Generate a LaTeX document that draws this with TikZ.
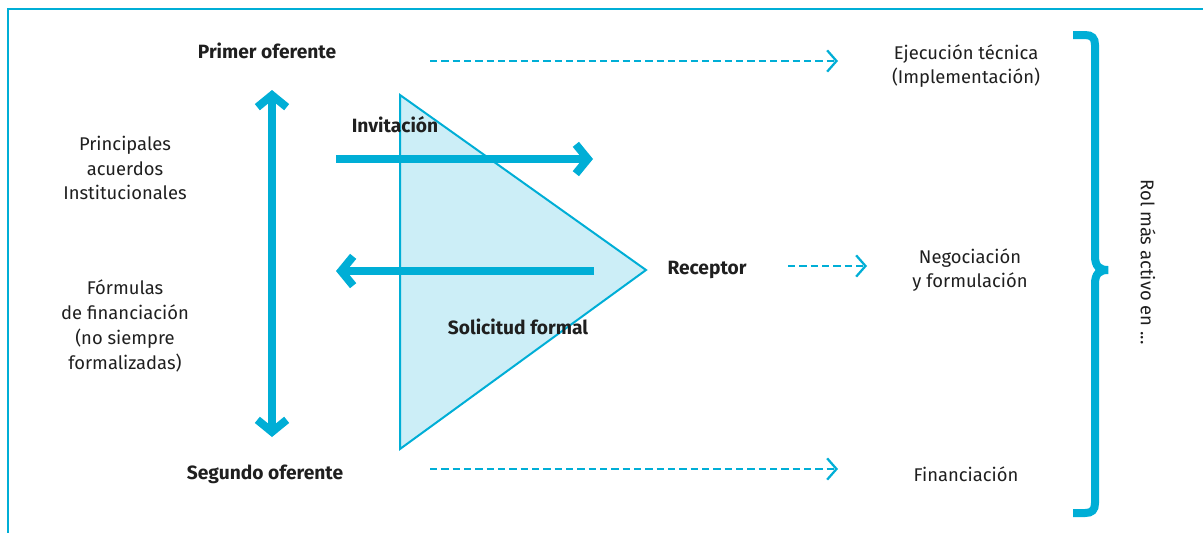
\documentclass[tikz,border=0pt]{standalone}
\usepackage{fontspec}
\setmainfont{Fira Sans}
\usepackage{tikz}
\usetikzlibrary{arrows.meta}

\definecolor{cianoc}{HTML}{00AED6}
\definecolor{cianoclaro}{HTML}{CCEEF7}

\begin{document}
\begin{tikzpicture}[x=0.75pt,y=-0.75pt,
    line join=miter,
    txt/.style={align=center,font=\fontsize{13.8}{18.6}\selectfont,text=black!88},
    bold/.style={txt,font=\fontsize{14.4}{18.6}\selectfont\bfseries},
    gruesa/.style={draw=cianoc,line width=6pt,
      arrows={-Straight Barb[length=9pt,width=22pt]}},
    punteada/.style={draw=cianoc,line width=1.7pt,dash pattern=on 5.5pt off 3pt,
      arrows={-Straight Barb[length=7pt,width=16pt]}}]
    \useasboundingbox (0,0) rectangle (1203,533);

    % Frame lines on top and left.
    \draw[cianoc,line width=2pt] (1203,9) -- (8,9) -- (8,533);

    % The receiving triangle.
    \draw[cianoc,fill=cianoclaro,line width=1.5pt]
      (400,95) -- (400,449) -- (646,270) -- cycle;

    % Actors and labels.
    \node[bold] (primer) at (267,51) {Primer oferente};
    \node[bold] (segundo) at (265,474) {Segundo oferente};
    \node[bold] (invit) at (395,125) {Invitación};
    \node[bold] (solic) at (518,327) {Solicitud formal};
    \node[bold] (receptor) at (707,270) {Receptor};

    \node[txt] (acuerdos) at (125,168) {Principales\\acuerdos\\Institucionales};
    \node[txt] (formulas) at (125,326)
      {Fórmulas\\de financiación\\(no siempre\\formalizadas)};

    \node[txt] (ejec) at (966,66) {Ejecución técnica\\(Implementación)};
    \node[txt] (negoc) at (970,270) {Negociación\\y formulación};
    \node[txt] (financ) at (966,474) {Financiación};
    \node[txt,rotate=-90] (rol) at (1148,262) {Rol más activo en ...};

    % End points of the arrows.
    \coordinate (vtop) at (272,90);
    \coordinate (vbot) at (272,437);
    \coordinate (invitA) at (336,159);
    \coordinate (invitB) at (593,159);
    \coordinate (solicA) at (594,271);
    \coordinate (solicB) at (336,271);
    \coordinate (dtopA) at (430,61);
    \coordinate (dtopB) at (838,61);
    \coordinate (dmidA) at (788,266);
    \coordinate (dmidB) at (867,266);
    \coordinate (dbotA) at (430,469);
    \coordinate (dbotB) at (838,469);

    % Thick arrows.
    \draw[gruesa,arrows={Straight Barb[length=9pt,width=22pt]-Straight Barb[length=9pt,width=22pt]}]
      (vtop) -- (vbot);
    \draw[gruesa] (invitA) -- (invitB);
    \draw[gruesa] (solicA) -- (solicB);

    % Dashed arrows towards the roles.
    \foreach \a/\b in {dtopA/dtopB,dmidA/dmidB,dbotA/dbotB}
      \draw[punteada] (\a) -- (\b);

    % Brace on the right.
    \draw[cianoc,line width=6pt]
      (1073,35) -- (1085,35) .. controls (1092,35) and (1095,38) .. (1095,45)
      -- (1095,256) .. controls (1095,266) and (1099,270) .. (1108,270)
      .. controls (1099,270) and (1095,274) .. (1095,284)
      -- (1095,503) .. controls (1095,510) and (1092,513) .. (1085,513)
      -- (1073,513);
\end{tikzpicture}
\end{document}
